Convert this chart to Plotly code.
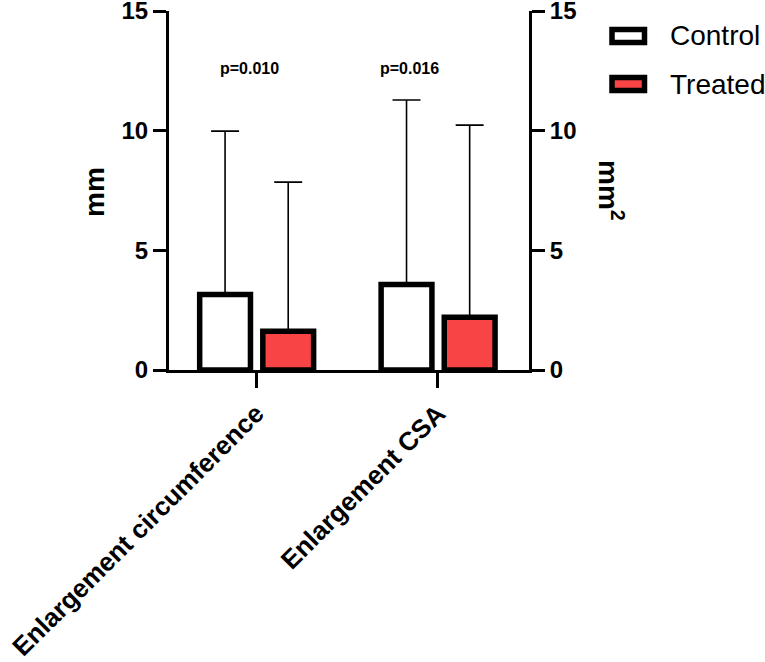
"""Enlargement of circumference and CSA: control vs treated bar chart."""

import plotly.graph_objects as go

# Data
CATEGORIES = ["Enlargement circumference", "Enlargement CSA"]
CONTROL_MEAN = [3.15, 3.57]
CONTROL_UPPER = [9.98, 11.28]
TREATED_MEAN = [1.62, 2.20]
TREATED_UPPER = [7.85, 10.23]
P_LABELS = ["p=0.010", "p=0.016"]
P_Y = [12.6, 12.6]
Y_TICKS = [0, 5, 10, 15]

FONT = "Arial, Liberation Sans, sans-serif"
RED = "#f84444"

W, H = 765, 662
L, R, T, B = 169, 236, 11, 292
PW, PH = W - L - R, H - T - B


def px_x(p):
    return (p - L) / PW


def px_y(p):
    return (H - B - p) / PH


fig = go.Figure()

for name, mean, upper, fill, off in [
    ("Control", CONTROL_MEAN, CONTROL_UPPER, "white", -0.312),
    ("Treated", TREATED_MEAN, TREATED_UPPER, RED, 0.036),
]:
    fig.add_trace(
        go.Bar(
            x=CATEGORIES,
            y=mean,
            name=name,
            width=0.28,
            offset=off,
            marker=dict(color=fill, line=dict(color="black", width=5.5)),
            error_y=dict(
                type="data",
                symmetric=False,
                array=[u - m for u, m in zip(upper, mean)],
                arrayminus=[0] * len(mean),
                color="black",
                thickness=1.6,
                width=14,
            ),
            showlegend=False,
        )
    )

# invisible trace so the right-hand axis is drawn
fig.add_trace(
    go.Scatter(x=CATEGORIES, y=CONTROL_MEAN, yaxis="y2", mode="markers",
               marker=dict(opacity=0), hoverinfo="skip", showlegend=False)
)

annotations = [
    dict(x=c, y=y, xref="x", yref="y", text=f"<b>{t}</b>", showarrow=False,
         xshift=xs, font=dict(family=FONT, size=16, color="black"))
    for c, y, t, xs in zip(CATEGORIES, P_Y, P_LABELS, [-6.5, -28])
]
annotations += [
    dict(x=px_x(95), y=px_y(192), xref="paper", yref="paper", text="<b>mm</b>",
         textangle=-90, showarrow=False, xanchor="center", yanchor="middle",
         font=dict(family=FONT, size=28, color="black")),
    dict(x=px_x(611), y=px_y(190), xref="paper", yref="paper",
         text="<b>mm<sup>2</sup></b>", textangle=90, showarrow=False,
         xanchor="center", yanchor="middle",
         font=dict(family=FONT, size=28, color="black")),
]

# legend drawn by hand to match the wide boxes
shapes = []
for name, fill, cy in [("Control", "white", 36), ("Treated", RED, 84)]:
    shapes.append(dict(type="rect", xref="paper", yref="paper",
                       x0=px_x(612), x1=px_x(644.5), y0=px_y(cy - 6.5), y1=px_y(cy + 6.5),
                       fillcolor=fill, line=dict(color="black", width=5.5)))
    annotations.append(dict(x=px_x(668), y=px_y(cy), xref="paper", yref="paper",
                            text=name, showarrow=False, xanchor="left", yanchor="middle",
                            font=dict(family=FONT, size=28, color="black")))

axis_common = dict(
    range=[0, 15], tickvals=Y_TICKS, showline=True, linecolor="black", linewidth=3,
    ticks="outside", ticklen=13, tickwidth=3, tickcolor="black", showgrid=False,
    zeroline=False, ticklabeloverflow="allow", automargin=False,
    tickfont=dict(family=FONT, size=24, color="black", weight="bold"),
)

fig.update_layout(
    width=W,
    height=H,
    margin=dict(l=L, r=R, t=T, b=B),
    plot_bgcolor="white",
    paper_bgcolor="white",
    barmode="overlay",
    font=dict(family=FONT, color="black"),
    xaxis=dict(
        range=[-0.481, 1.503], showline=True, linecolor="black", linewidth=3,
        ticks="outside", ticklen=15, tickwidth=3, tickcolor="black", tickangle=-45,
        automargin=False, ticklabeloverflow="allow",
        tickfont=dict(family=FONT, size=26, color="black", weight="bold"), showgrid=False,
    ),
    yaxis=axis_common,
    yaxis2=dict(**axis_common, overlaying="y", side="right"),
    annotations=annotations,
    shapes=shapes,
)

# page body has a default 8px margin; drop it so the figure sits at the window corner
fig.write_html(
    "out.html",
    config={"displayModeBar": False},
    post_script="document.body.style.margin='0';",
)
